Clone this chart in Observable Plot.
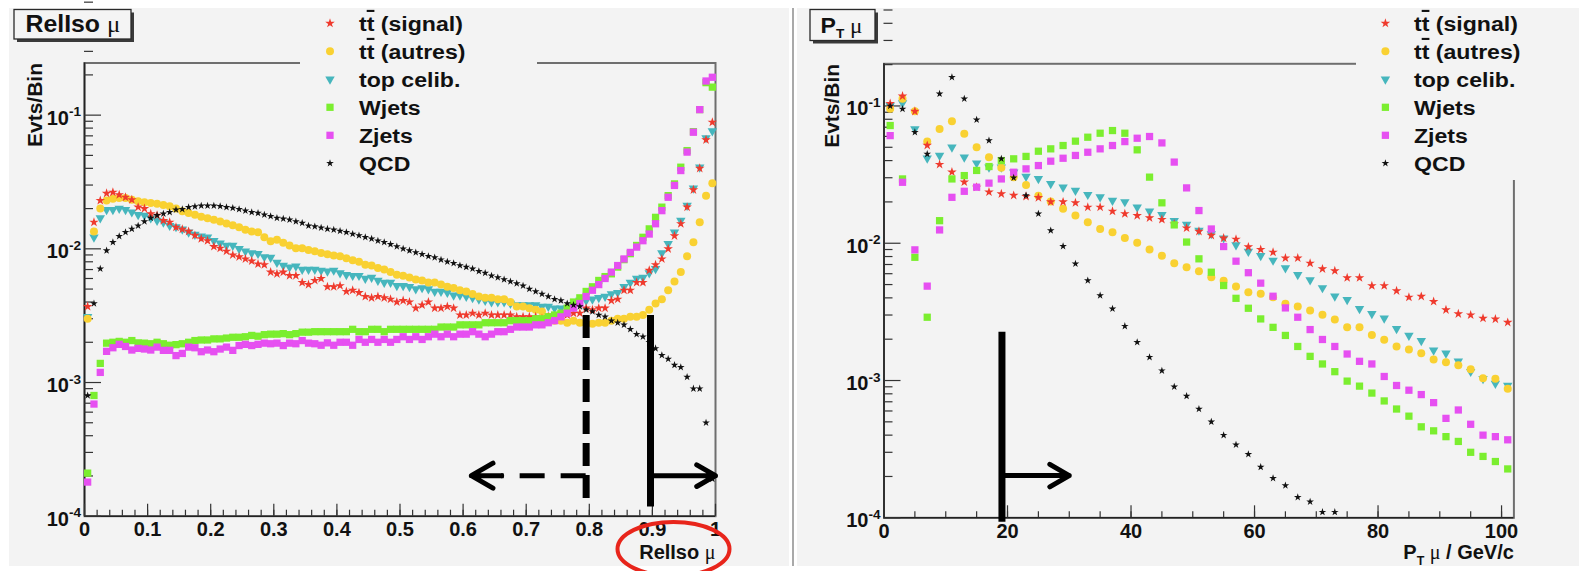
<!DOCTYPE html>
<html>
<head>
<meta charset="utf-8">
<script src="https://cdn.jsdelivr.net/npm/d3@7"></script>
<script src="https://cdn.jsdelivr.net/npm/@observablehq/plot@0.6"></script>
<style>
html,body{margin:0;padding:0;background:#fff;}
#chart{position:relative;width:1579px;height:571px;overflow:hidden;font-family:"Liberation Sans",Arial,Helvetica,sans-serif;color:#111;}
.panel{position:absolute;background:#f3f3f3;}
</style>
</head>
<body>
<div id="chart">
  <div class="panel" style="left:9px;top:8px;width:780px;height:558px;"></div>
  <div class="panel" style="left:797px;top:8px;width:782px;height:558px;"></div>
  <div style="position:absolute;left:792px;top:8px;width:2px;height:558px;background:#a9a9a9;"></div>
</div>
<script>
// ---------------- series meta ----------------
const seriesNames = ["tt\u0304 (signal)", "tt\u0304 (autres)", "top celib.", "Wjets", "Zjets", "QCD"];
const seriesColors = ["#ef3a2d", "#f9d132", "#46b6bd", "#7bee2f", "#e64ff1", "#111111"];
const seriesSymbols = ["star", "circle", "triangle", "square", "square", "star"];
const seriesR = [3.0, 4, 3.5, 4.1, 4.1, 2.4];
const drawOrder = [2, 1, 0, 3, 4, 5];

// ---------------- left panel: RelIso mu (100 bins, 0..1) ----------------
const relIsoBinWidth = 0.01;
const relIsoSignal = [0.0037,0.0158,0.023,0.026,0.0265,0.0254,0.0243,0.0233,0.0205,0.020,
 0.0183,0.0178,0.0163,0.0158,0.0145,0.014,0.0135,0.0126,0.0119,0.0115,
 0.0104,0.0101,0.0096,0.009,0.0087,0.0084,0.0081,0.0077,0.0076,0.0067,
 0.0065,0.0067,0.0063,0.0063,0.0056,0.0054,0.0058,0.0060,0.0052,0.0052,
 0.0053,0.0048,0.0049,0.0047,0.0044,0.0043,0.0044,0.0043,0.0042,0.0040,
 0.0041,0.0040,0.0036,0.0038,0.0040,0.0036,0.0036,0.0037,0.0036,0.0032,
 0.0032,0.0033,0.0032,0.0033,0.0032,0.0032,0.0032,0.0032,0.0031,0.0031,
 0.0031,0.0031,0.0030,0.0031,0.0031,0.0032,0.0032,0.0033,0.0033,0.0036,
 0.0035,0.0036,0.0036,0.0041,0.0042,0.0049,0.0049,0.0056,0.0056,0.0069,
 0.0076,0.0084,0.0100,0.0125,0.0154,0.0205,0.0276,0.040,0.0653,0.0885];
const relIsoAutres = [0.0030,0.0135,0.020,0.023,0.0237,0.024,0.024,0.0233,0.0227,0.0223,
 0.022,0.0217,0.0213,0.0208,0.020,0.0191,0.0185,0.018,0.0174,0.0169,
 0.0165,0.016,0.0155,0.015,0.0145,0.0139,0.0135,0.0133,0.0122,0.0114,
 0.0117,0.0111,0.0106,0.0101,0.0101,0.0098,0.0096,0.0093,0.0091,0.0089,
 0.0088,0.0085,0.0082,0.0080,0.0076,0.0075,0.0072,0.0070,0.0067,0.0064,
 0.0063,0.0061,0.0059,0.0058,0.0056,0.0056,0.0054,0.0052,0.0051,0.0049,
 0.0048,0.0046,0.0044,0.0043,0.0043,0.0042,0.0042,0.0040,0.0037,0.0037,
 0.0036,0.0035,0.0034,0.0031,0.0029,0.0029,0.0028,0.0029,0.0028,0.00275,
 0.00275,0.0028,0.0028,0.0029,0.0030,0.0030,0.0031,0.0031,0.0032,0.0035,
 0.0039,0.0042,0.0049,0.0057,0.0067,0.0088,0.0112,0.0158,0.025,0.031];
const relIsoCelib = [0.0031,0.0122,0.017,0.0196,0.0196,0.020,0.0196,0.0188,0.018,0.0178,
 0.017,0.0163,0.0158,0.0149,0.0146,0.014,0.0133,0.0128,0.0124,0.0122,
 0.0115,0.011,0.0106,0.0106,0.010,0.0096,0.0093,0.0092,0.0087,0.0086,
 0.0079,0.0075,0.0073,0.0074,0.0070,0.0070,0.0070,0.0069,0.0068,0.0069,
 0.0066,0.0064,0.0063,0.0063,0.0060,0.0061,0.0058,0.0056,0.0056,0.0053,
 0.0053,0.0052,0.0050,0.0051,0.0050,0.0048,0.0048,0.0047,0.0045,0.0045,
 0.0044,0.0043,0.0042,0.0041,0.0040,0.0040,0.0040,0.0039,0.0038,0.0038,
 0.0038,0.0038,0.0037,0.0037,0.0036,0.0036,0.0036,0.0037,0.0041,0.0041,
 0.0042,0.0043,0.0044,0.0046,0.0047,0.0052,0.0056,0.0060,0.0061,0.0066,
 0.0071,0.0093,0.0109,0.0133,0.0163,0.0211,0.0284,0.0408,0.0676,0.076];
const relIsoWjets = [0.00021,0.0008,0.00139,0.00197,0.0020,0.00203,0.0020,0.00206,0.00198,0.00197,
 0.00195,0.0020,0.00195,0.0019,0.00192,0.00195,0.0020,0.00206,0.00208,0.00208,
 0.00212,0.00212,0.00215,0.00218,0.00218,0.0022,0.00225,0.00222,0.00228,0.0023,
 0.0023,0.00232,0.00228,0.00232,0.00238,0.00238,0.0024,0.0024,0.0024,0.0024,
 0.0024,0.0024,0.0025,0.0024,0.0024,0.0025,0.0025,0.0024,0.0025,0.0025,
 0.0025,0.0025,0.0025,0.0025,0.0025,0.0025,0.0026,0.0026,0.0026,0.0027,
 0.0027,0.0027,0.0027,0.0028,0.0028,0.0028,0.0028,0.0029,0.0029,0.0029,
 0.0029,0.0030,0.0030,0.0031,0.0032,0.0033,0.0036,0.0040,0.0043,0.0048,
 0.0052,0.0058,0.0062,0.0065,0.0073,0.0083,0.0092,0.0106,0.0122,0.0141,
 0.0172,0.0205,0.025,0.0306,0.0408,0.0543,0.0753,0.110,0.175,0.162];
const relIsoZjets = [0.00018,0.00069,0.00119,0.00171,0.00182,0.00193,0.00186,0.00175,0.0018,0.00178,
 0.00175,0.00184,0.00174,0.00174,0.00159,0.00165,0.00184,0.00182,0.0017,0.00175,
 0.0017,0.00178,0.00184,0.00174,0.00189,0.00193,0.00189,0.00193,0.00197,0.00195,
 0.00197,0.00189,0.00197,0.00195,0.00206,0.00197,0.00195,0.0019,0.00198,0.0019,
 0.0020,0.0020,0.0019,0.0021,0.0020,0.0021,0.0020,0.0021,0.0020,0.0021,
 0.0022,0.0021,0.0022,0.0021,0.0022,0.0023,0.0022,0.0023,0.0022,0.0023,
 0.0023,0.0024,0.0023,0.0022,0.0023,0.0024,0.0024,0.0025,0.0026,0.0026,
 0.0026,0.0027,0.0027,0.0028,0.0029,0.0031,0.0033,0.0036,0.0039,0.0044,
 0.0049,0.0054,0.0060,0.0067,0.0075,0.0084,0.0094,0.0103,0.0115,0.0129,
 0.0154,0.0193,0.0243,0.0298,0.0385,0.0529,0.0745,0.110,0.180,0.192];
const relIsoQCD = [0.0008,0.0039,0.0071,0.0097,0.0112,0.0124,0.0133,0.0141,0.0149,0.016,
 0.017,0.0178,0.0183,0.0188,0.0196,0.0198,0.0205,0.0207,0.021,0.021,
 0.021,0.0208,0.0205,0.0202,0.0198,0.0193,0.0188,0.0185,0.018,0.0175,
 0.017,0.0168,0.0165,0.016,0.0156,0.0149,0.0147,0.0144,0.0141,0.0139,
 0.0136,0.0133,0.0129,0.0126,0.0122,0.0119,0.0115,0.0112,0.0108,0.0104,
 0.0100,0.0097,0.0094,0.0091,0.0088,0.0086,0.0083,0.0080,0.0078,0.0075,
 0.0073,0.0071,0.0068,0.0066,0.0063,0.0061,0.0059,0.0057,0.0055,0.0053,
 0.0050,0.0048,0.0046,0.0044,0.0042,0.0041,0.0039,0.0038,0.0037,0.0035,
 0.0034,0.0032,0.0031,0.0029,0.0028,0.0027,0.0025,0.0023,0.0022,0.0020,
 0.0018,0.0016,0.0015,0.00135,0.0013,0.0011,0.0009,0.0009,0.0005,0.00019];
const relIsoMajorTicks = [0,0.1,0.2,0.3,0.4,0.5,0.6,0.7,0.8,0.9,1];
const relIsoTickLabels = ["0","0.1","0.2","0.3","0.4","0.5","0.6","0.7","0.8","0.9","1"];
// cut annotations (RelIso)
const relIsoLooseCut = [{x: 0.795, y1: 0.00317, y2: 0.000135}];
const relIsoTightCut = [{x: 0.897, y1: 0.00317, y2: 0.000117}];
const relIsoLooseArrow = [{x1: 0.795, xTail: 0.661, x2: 0.613, y: 0.000201}];
const relIsoTightArrow = [{x1: 0.897, x2: 1.0, y: 0.000201}];

// ---------------- right panel: PT mu (51 bins of 2 GeV, 0..102) ----------------
const ptBinWidth = 2;
const ptSignal = [0.104,0.118,0.0914,0.0516,0.0375,0.033,0.0279,0.0256,0.0236,0.0229,
 0.0223,0.0219,0.0215,0.020,0.020,0.0197,0.0183,0.0183,0.0171,0.0164,
 0.0159,0.0153,0.0149,0.0138,0.0129,0.0122,0.0114,0.0109,0.0107,0.0094,
 0.0090,0.0086,0.0078,0.0078,0.00715,0.0065,0.0063,0.0056,0.0056,0.0049,
 0.0049,0.0045,0.00404,0.0041,0.00376,0.00327,0.00306,0.0030,0.00284,0.0028,
 0.00265];
const ptAutres = [0.0953,0.1127,0.0914,0.055,0.068,0.0774,0.0627,0.050,0.0423,0.0354,
 0.0303,0.0266,0.0222,0.0201,0.0178,0.0159,0.0142,0.0127,0.012,0.0109,
 0.0101,0.0090,0.0081,0.00715,0.00668,0.00625,0.00565,0.00534,0.00484,0.0044,
 0.00428,0.00404,0.00362,0.00346,0.00324,0.00301,0.00278,0.00244,0.00244,0.00215,
 0.00198,0.00177,0.00168,0.00158,0.00142,0.00136,0.00129,0.00121,0.00104,0.00103,
 0.00087];
const ptCelib = [0.1007,0.105,0.068,0.0416,0.0436,0.050,0.0423,0.0383,0.0358,0.0358,
 0.0329,0.0306,0.0295,0.0271,0.0256,0.0242,0.0226,0.0217,0.0205,0.020,
 0.0183,0.0171,0.0161,0.0146,0.0137,0.0124,0.0117,0.0109,0.0097,0.0087,
 0.0081,0.0075,0.0066,0.0059,0.0054,0.00473,0.00411,0.00387,0.00333,0.00306,
 0.00284,0.00238,0.00213,0.00195,0.00166,0.00158,0.00138,0.00116,0.00103,0.00095,
 0.00092];
const ptWjets = [0.072,0.0294,0.0079,0.00289,0.0146,0.0294,0.0311,0.0339,0.0362,0.040,
 0.0412,0.0429,0.0468,0.0487,0.0515,0.0554,0.0592,0.0633,0.0662,0.0633,
 0.0479,0.0303,0.0197,0.0136,0.0102,0.0077,0.00615,0.00492,0.00397,0.00336,
 0.00281,0.00244,0.00213,0.00177,0.0015,0.00132,0.00116,0.00099,0.00091,0.00081,
 0.00071,0.00062,0.00055,0.00046,0.00043,0.00039,0.00036,0.0003,0.00028,0.000257,
 0.000227];
const ptZjets = [0.0608,0.0278,0.00895,0.00487,0.0125,0.0216,0.0239,0.0256,0.0274,0.0294,
 0.0329,0.0348,0.0368,0.0396,0.0416,0.0436,0.046,0.0487,0.0515,0.055,
 0.0582,0.0599,0.0538,0.039,0.0253,0.0173,0.0127,0.00946,0.0074,0.0061,
 0.00512,0.00411,0.00338,0.00289,0.00235,0.00199,0.00177,0.00156,0.00138,0.00132,
 0.00107,0.00092,0.00085,0.00079,0.00069,0.00053,0.00061,0.00048,0.0004,0.00039,
 0.00037];
const ptQCD = [0.10,0.095,0.0644,0.0446,0.1225,0.162,0.113,0.0793,0.056,0.0412,
 0.030,0.0223,0.0164,0.0124,0.0095,0.0071,0.00535,0.00416,0.00333,0.00249,
 0.0019,0.00148,0.00118,0.0009,0.00077,0.00062,0.0005,0.0004,0.00034,0.00029,
 0.000234,0.000194,0.000172,0.000141,0.000131,0.00011,0.00011,null,null,null,
 null,null,null,null,null,null,null,null,null,null,
 null];
const ptMajorTicks = [0,20,40,60,80,100];
const ptTickLabels = ["0","20","40","60","80","100"];
const ptCut = [{x: 19.1, y1: 0.00225, y2: 0.0000929}];
const ptArrow = [{x1: 19.1, x2: 30, y: 0.000203}];

// ---------------- helpers ----------------
const NS = "http://www.w3.org/2000/svg";
const logMajor = [1e-4, 1e-3, 1e-2, 1e-1];
const logMinor = [];
for (const m of logMajor) for (let k = 2; k <= 9; k++) logMinor.push(+(m * k).toPrecision(3));

function richify(root) {
  root.querySelectorAll("text").forEach(t => {
    const s = t.textContent;
    if (!/\^\{|_\{|μ/.test(s)) return;
    const fs = parseFloat(getComputedStyle(t).fontSize) || 20;
    while (t.firstChild) t.removeChild(t.firstChild);
    const re = /\^\{([^}]*)\}|_\{([^}]*)\}|μ/g;
    let last = 0, m, pend = 0;
    const add = (txt, attrs) => {
      const ts = document.createElementNS(NS, "tspan");
      ts.textContent = txt;
      for (const [k, v] of Object.entries(attrs)) ts.setAttribute(k, v);
      t.appendChild(ts);
    };
    while ((m = re.exec(s))) {
      if (m.index > last) { add(s.slice(last, m.index), pend ? {dy: pend} : {}); pend = 0; }
      if (m[1] !== undefined) { add(m[1], {dy: pend - 0.42 * fs, "font-size": 0.68 * fs}); pend = 0.42 * fs; }
      else if (m[2] !== undefined) { add(m[2], {dy: pend + 0.3 * fs, "font-size": 0.62 * fs}); pend = -0.3 * fs; }
      else { add("μ", Object.assign({"font-family": "Liberation Serif, Times New Roman, serif", "font-weight": "normal"}, pend ? {dy: pend} : {})); pend = 0; }
      last = re.lastIndex;
    }
    if (last < s.length) add(s.slice(last), pend ? {dy: pend} : {});
  });
}

function buildPanel(cfg) {
  const marks = [];
  for (const k of drawOrder) {
    const data = cfg.values[k].map((v, i) => ({x: cfg.centers[i], y: v})).filter(d => d.y != null);
    marks.push(Plot.dot(data, {x: "x", y: "y", symbol: seriesSymbols[k], fill: seriesColors[k], r: seriesR[k], rotate: k === 2 ? 180 : 0}));
  }
  const axisStyle = {stroke: "#333", strokeWidth: 1.2, label: null};
  const plot = Plot.plot({
    width: cfg.width, height: cfg.height,
    marginLeft: cfg.ml, marginRight: cfg.mr, marginTop: cfg.mt, marginBottom: cfg.mb,
    style: {background: "transparent", overflow: "visible", fontFamily: "Liberation Sans, Arial, sans-serif", color: "#111"},
    x: {domain: cfg.xDomain},
    y: {type: "log", domain: cfg.yDomain},
    marks: [
      Plot.frame({stroke: "#6e6e6e", strokeWidth: 2}),
      Plot.ruleX([cfg.xDomain[0]], {stroke: "#222", strokeWidth: 1.6}),
      Plot.ruleY([cfg.yDomain[0]], {stroke: "#222", strokeWidth: 1.6}),
      Plot.axisY({...axisStyle, anchor: "left", ticks: logMinor, tickSize: -9, tickFormat: () => ""}),
      Plot.axisY({...axisStyle, anchor: "left", ticks: logMajor, tickSize: -17, tickFormat: () => ""}),
      Plot.axisY({anchor: "left", label: null, ticks: logMajor, tickSize: 0, tickPadding: 3.5, dy: 3,
        tickFormat: d => `10^{${Math.round(Math.log10(d))}}`, fontSize: 20, fontWeight: "bold", fill: "#111"}),
      Plot.axisX({...axisStyle, anchor: "bottom", ticks: cfg.xMinor, tickSize: -6, tickFormat: () => ""}),
      Plot.axisX({...axisStyle, anchor: "bottom", ticks: cfg.xMajor, tickSize: -12, tickFormat: () => ""}),
      Plot.axisX({anchor: "bottom", label: null, ticks: cfg.xMajor, tickSize: 0, tickPadding: 6,
        tickFormat: (d, i) => cfg.xLabels[i], fontSize: 20, fontWeight: "bold", fill: "#111"}),
      Plot.text([cfg.yTitle], {text: d => d, frameAnchor: "top-left", rotate: -90, textAnchor: "end", lineAnchor: "middle",
        dx: cfg.yTitleDx, fontSize: 21, fontWeight: "bold", fill: "#111"}),
      Plot.text([cfg.xTitle], {text: d => d, frameAnchor: "bottom-right", textAnchor: "end", lineAnchor: "middle",
        dy: cfg.xTitleDy, fontSize: 20, fontWeight: "bold", fill: "#111"}),
      ...marks,
      ...cfg.extra
    ]
  });
  plot.style.position = "absolute";
  plot.style.left = cfg.left + "px";
  plot.style.top = "0px";
  return plot;
}

const chart = document.getElementById("chart");

const relIsoCenters = relIsoSignal.map((_, i) => (i + 0.5) * relIsoBinWidth);
const leftPlot = buildPanel({
  width: 790, height: 571, left: 0, ml: 84, mr: 75, mt: 62.5, mb: 55.3,
  xDomain: [0, 1], yDomain: [1e-4, 0.2455],
  centers: relIsoCenters,
  values: [relIsoSignal, relIsoAutres, relIsoCelib, relIsoWjets, relIsoZjets, relIsoQCD],
  xMajor: relIsoMajorTicks, xMinor: d3.range(0, 1.001, 0.02), xLabels: relIsoTickLabels,
  xTitle: "RelIso μ", yTitle: "Evts/Bin", yTitleDx: -49, xTitleDy: 36,
  extra: [
    Plot.ruleX(relIsoLooseCut, {x: "x", y1: "y1", y2: "y2", stroke: "#000", strokeWidth: 7, strokeDasharray: "23,9"}),
    Plot.ruleX(relIsoTightCut, {x: "x", y1: "y1", y2: "y2", stroke: "#000", strokeWidth: 7}),
    Plot.ruleY(relIsoLooseArrow, {y: "y", x1: "x1", x2: "xTail", stroke: "#000", strokeWidth: 5, strokeDasharray: "25,16"}),
    Plot.arrow(relIsoLooseArrow, {x1: "x1", y1: "y", x2: "x2", y2: "y", stroke: "#000", strokeWidth: 5, headLength: 7.5, insetStart: 84.5}),
    Plot.arrow(relIsoTightArrow, {x1: "x1", y1: "y", x2: "x2", y2: "y", stroke: "#000", strokeWidth: 5, headLength: 7.5})
  ]
});
chart.appendChild(leftPlot);

const ptCenters = ptSignal.map((_, i) => (i + 0.5) * ptBinWidth);
const rightPlot = buildPanel({
  width: 789, height: 571, left: 790, ml: 93.5, mr: 65.6, mt: 63.3, mb: 53.7,
  xDomain: [0, 102], yDomain: [1e-4, 0.2028],
  centers: ptCenters,
  values: [ptSignal, ptAutres, ptCelib, ptWjets, ptZjets, ptQCD],
  xMajor: ptMajorTicks, xMinor: d3.range(0, 101, 5), xLabels: ptTickLabels,
  xTitle: "P_{T} μ / GeV/c", yTitle: "Evts/Bin", yTitleDx: -51.5, xTitleDy: 35,
  extra: [
    Plot.ruleX(ptCut, {x: "x", y1: "y1", y2: "y2", stroke: "#000", strokeWidth: 7}),
    Plot.arrow(ptArrow, {x1: "x1", y1: "y", x2: "x2", y2: "y", stroke: "#000", strokeWidth: 5, headLength: 7.5})
  ]
});
chart.appendChild(rightPlot);

richify(leftPlot);
richify(rightPlot);

// ---------------- overlay: title boxes, legends, highlight ellipse ----------------
const ov = d3.select(chart).append("svg")
  .attr("width", 1579).attr("height", 571)
  .style("position", "absolute").style("left", 0).style("top", 0)
  .style("font-family", "Liberation Sans, Arial, sans-serif");

function titleBox(x, y, w, h) {
  ov.append("rect").attr("x", x + 3).attr("y", y + 3).attr("width", w).attr("height", h).attr("fill", "#3a3a3a");
  ov.append("rect").attr("x", x).attr("y", y).attr("width", w).attr("height", h)
    .attr("fill", "#f4f4f4").attr("stroke", "#2a2a2a").attr("stroke-width", 1.3);
}
titleBox(14, 9.5, 117, 29.5);
{
  const t = ov.append("text").attr("transform", "translate(25.5,31.7) scale(1.08,1)")
    .attr("font-size", 23).attr("font-weight", "bold").attr("fill", "#111");
  t.append("tspan").text("RelIso ");
  t.append("tspan").attr("font-family", "Liberation Serif, serif").attr("font-weight", "normal").text("μ");
}
titleBox(810, 9.5, 65, 31);
{
  const t = ov.append("text").attr("transform", "translate(820.5,33) scale(1.05,1)")
    .attr("font-size", 22).attr("font-weight", "bold").attr("fill", "#111");
  t.append("tspan").text("P");
  t.append("tspan").attr("font-size", 13).attr("dy", 5).text("T");
  t.append("tspan").attr("dy", -5).attr("font-family", "Liberation Serif, serif").attr("font-weight", "normal").text(" μ");
}

function legend(bx, bw, mx, tx) {
  ov.append("rect").attr("x", bx).attr("y", 8).attr("width", bw).attr("height", 172).attr("fill", "#f3f3f3");
  seriesNames.forEach((name, k) => {
    const cy = 23.3 + k * 28;
    const type = {star: d3.symbolStar, circle: d3.symbolCircle, triangle: d3.symbolTriangle, square: d3.symbolSquare}[seriesSymbols[k]];
    ov.append("path").attr("d", d3.symbol(type, Math.PI * seriesR[k] * seriesR[k])())
      .attr("transform", `translate(${mx},${cy}) rotate(${k === 2 ? 180 : 0})`).attr("fill", seriesColors[k]);
    const t = ov.append("text").attr("transform", `translate(${tx},${cy + 7.5}) scale(1.1,1)`)
      .attr("font-size", 21).attr("font-weight", "bold").attr("fill", "#111");
    name.split(/(t\u0304)/).forEach(p => {
      if (!p) return;
      if (p === "t\u0304") t.append("tspan").style("text-decoration", "overline").text("t");
      else t.append("tspan").text(p);
    });
  });
}
legend(300, 237, 330, 359);
legend(1356, 223, 1385.4, 1414);

ov.append("ellipse").attr("cx", 673.5).attr("cy", 549).attr("rx", 56).attr("ry", 27)
  .attr("fill", "none").attr("stroke", "#e8251b").attr("stroke-width", 4);
</script>
</body>
</html>
